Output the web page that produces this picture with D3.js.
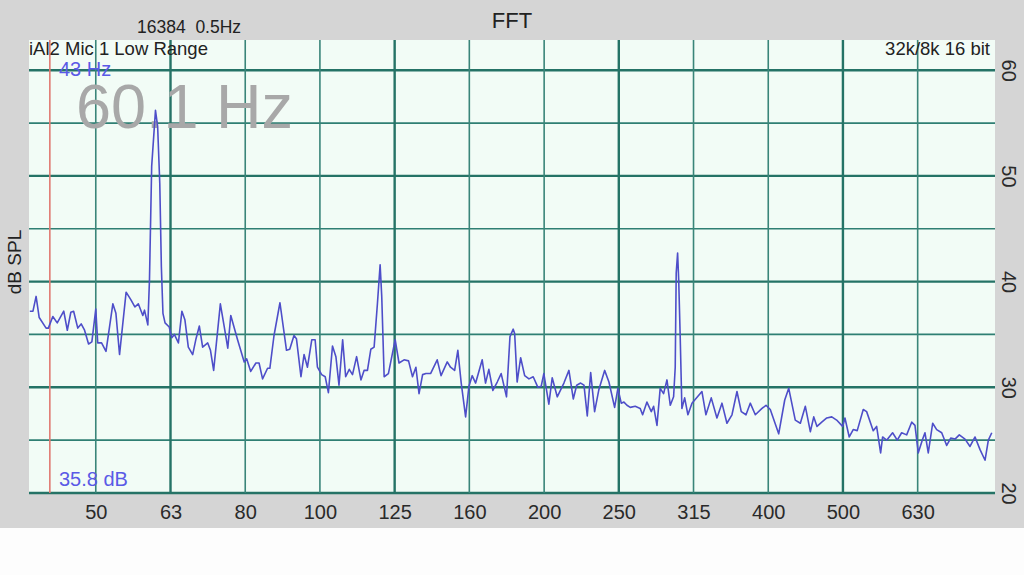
<!DOCTYPE html>
<html>
<head>
<meta charset="utf-8">
<script src="https://cdn.jsdelivr.net/npm/d3@7"></script>
<style>
  html, body { margin: 0; padding: 0; background: #fdfdfd; }
  svg { display: block; font-family: "Liberation Sans", Arial, sans-serif; }
</style>
</head>
<body>
<svg id="chart" width="1024" height="575"></svg>
<script>
// ---- data ----
const freqHz = [40.8,41.2,41.6,42.0,42.9,43.2,43.8,44.4,45.3,45.8,46.3,46.7,47.3,47.8,48.3,48.9,49.4,50.0,50.3,50.9,
  51.6,52.7,53.2,53.8,54.9,55.7,56.4,57.0,57.8,58.1,58.7,59.0,59.4,60.1,60.5,60.9,61.2,61.5,61.9,62.7,
  63.2,63.7,64.5,65.2,65.8,66.5,67.4,68.1,68.8,69.5,70.6,71.2,71.9,73.4,74.3,75.1,75.8,77.4,79.0,79.6,
  80.6,81.9,82.7,83.6,84.9,85.5,86.6,88.2,90.0,90.9,92.1,92.8,94.1,95.0,96.0,97.3,98.3,99.0,100.3,101.4,
  102.4,103.7,104.8,105.8,107.0,108.0,109.2,110.3,111.7,113.2,114.3,115.5,116.7,117.9,119.1,120.1,120.7,121.6,123.2,124.5,
  125.8,127.3,129.3,131.1,132.7,134.1,135.4,136.9,138.3,140.3,143.2,144.9,147.7,149.2,151.1,152.6,154.2,156.3,157.9,159.5,
  161.2,164.5,166.2,167.9,170.0,172.3,174.4,177.3,179.2,181.0,181.8,183.2,185.2,187.5,190.0,192.5,195.3,197.3,198.9,202.0,
  204.1,207.3,211.6,214.9,217.8,220.1,222.8,225.1,227.4,229.8,232.6,235.7,239.9,243.1,247.4,249.9,252.5,254.6,257.0,259.6,
  263.6,267.7,269.7,273.3,277.0,279.0,281.9,284.7,287.7,290.7,293.7,296.7,298.2,299.1,300.4,301.4,302.8,304.4,307.0,310.1,
  314.0,323.8,327.8,333.2,339.1,344.4,349.7,355.2,360.7,365.5,370.9,375.8,381.7,389.6,394.5,399.7,410.2,417.9,423.1,431.7,
  438.5,445.3,452.2,457.0,461.6,468.4,475.7,483.1,490.4,499.5,503.1,509.8,516.1,522.5,532.3,537.9,548.9,554.7,561.6,565.0,
  572.1,582.7,591.1,599.2,608.5,618.0,624.3,630.7,639.3,643.8,650.4,659.3,667.5,677.9,688.4,697.0,706.3,715.7,728.4,739.7,
  751.2,762.9,774.8,782.7,791.0];
const levelDb = [37.2,37.2,38.6,36.6,35.6,35.6,36.7,36.1,37.2,35.4,37.1,37.2,35.6,36.0,35.4,34.1,34.3,37.4,34.2,34.2,
  33.4,37.9,37.0,33.1,39.0,38.3,37.6,37.9,36.8,37.3,35.9,40.2,50.9,56.2,54.7,49.3,41.4,37.0,36.1,35.7,
  34.7,35.0,34.2,37.2,36.4,33.8,33.1,34.6,35.8,33.8,34.2,33.5,31.6,37.9,35.7,33.7,36.8,34.5,32.4,32.7,
  31.5,32.3,32.3,30.8,31.8,31.8,34.9,38.0,33.5,33.6,34.9,34.6,31.0,33.1,31.9,34.5,34.5,31.9,31.2,31.0,
  29.5,33.9,32.9,30.2,34.5,31.0,31.7,31.2,32.9,30.7,31.6,31.6,33.6,33.8,37.9,41.6,38.6,31.0,31.3,32.9,
  34.5,32.3,32.6,32.5,31.0,31.9,29.4,31.2,31.3,31.3,32.6,31.1,32.4,31.9,31.6,33.5,30.4,27.2,30.1,31.1,
  30.4,32.6,30.4,31.7,29.7,30.5,31.3,29.1,34.8,35.5,35.1,30.5,32.8,31.1,30.8,31.0,30.0,30.1,31.3,28.4,
  30.9,29.1,30.4,31.6,28.9,30.2,30.4,30.2,27.3,31.4,27.7,29.8,31.6,30.5,28.1,29.9,28.5,28.6,28.3,28.1,
  28.2,28.0,27.4,28.6,27.7,28.2,26.4,29.9,29.4,30.7,28.3,29.1,31.9,40.8,42.7,40.2,34.8,28.0,29.0,27.4,
  28.5,29.6,27.4,29.0,27.1,28.5,26.6,27.4,29.6,27.7,27.4,28.5,27.4,28.0,28.3,27.9,25.6,28.8,29.9,26.9,
  26.6,28.2,25.8,27.2,26.3,26.7,27.1,27.2,26.9,26.3,27.1,25.3,26.0,25.9,27.9,27.7,25.9,26.3,23.8,25.3,
  25.0,25.7,25.0,25.7,25.5,26.7,26.4,23.8,25.1,25.7,23.8,26.6,26.0,25.7,24.5,25.2,25.1,25.5,25.1,24.4,
  25.3,24.1,23.1,25.0,25.7];

const freqTicks = [50, 62.95, 79.25, 99.76, 125.6, 158.1, 199.1, 250.6, 315.5, 397.2, 500, 629.5];
const freqTickLabels = ["50","63","80","100","125","160","200","250","315","400","500","630"];
const octaveTicks = [62.95, 125.6, 250.6, 500];
const dbTicks = [20, 30, 40, 50, 60];
const dbMinorTicks = [25, 35, 45, 55];
const freqDomain = [40.7, 794];
const dbDomain = [20, 62.86];
const cursorHz = 43.4;
const cursorLabel = "43 Hz";
const cursorDbLabel = "35.8 dB";
const peakLabel = "60.1 Hz";
const titleText = "FFT";
const fftInfo = "16384  0.5Hz";
const sourceInfo = "iAl2 Mic 1 Low Range";
const formatInfo = "32k/8k 16 bit";
const yLabel = "dB SPL";

// ---- layout ----
const W = 1024, H = 575;
const P = { left: 29, right: 993, top: 40, bottom: 493 };
const svg = d3.select("#chart");

svg.append("rect").attr("x", 0).attr("y", 0).attr("width", W).attr("height", H).attr("fill", "#fdfdfd");
svg.append("rect").attr("x", 0).attr("y", 0).attr("width", W).attr("height", 528).attr("fill", "#d5d5d5");
svg.append("rect").attr("x", P.left).attr("y", P.top).attr("width", P.right - P.left + 2)
  .attr("height", P.bottom - P.top).attr("fill", "#f2fcf6");

const x = d3.scaleLog().domain(freqDomain).range([P.left, P.right]);
const y = d3.scaleLinear().domain(dbDomain).range([P.bottom, P.top]);

const grid = svg.append("g");
grid.selectAll("line.hmin").data(dbMinorTicks).join("line")
  .attr("x1", P.left).attr("x2", P.right + 2)
  .attr("y1", d => y(d)).attr("y2", d => y(d))
  .attr("stroke", "#2f7f73").attr("stroke-width", 1.7);
grid.selectAll("line.hmaj").data(dbTicks).join("line")
  .attr("x1", P.left).attr("x2", P.right + 2)
  .attr("y1", d => y(d)).attr("y2", d => y(d))
  .attr("stroke", "#257366").attr("stroke-width", 2.4);
grid.selectAll("line.v").data(freqTicks).join("line")
  .attr("x1", d => x(d)).attr("x2", d => x(d))
  .attr("y1", P.top).attr("y2", P.bottom)
  .attr("stroke", d => octaveTicks.includes(d) ? "#257366" : "#3a8579")
  .attr("stroke-width", d => octaveTicks.includes(d) ? 2.4 : 1.6);

// cursor line
svg.append("line").attr("x1", x(cursorHz)).attr("x2", x(cursorHz))
  .attr("y1", P.top).attr("y2", P.bottom)
  .attr("stroke", "#e07a72").attr("stroke-width", 1.6);

// big peak readout (behind the trace)
svg.append("text").attr("x", 76).attr("y", 128).attr("font-size", 63)
  .attr("fill", "#a8a8a8").text(peakLabel);

// trace
const pts = freqHz.map((f, i) => [f, levelDb[i]]);
svg.append("clipPath").attr("id", "clip").append("rect")
  .attr("x", P.left).attr("y", P.top).attr("width", P.right - P.left).attr("height", P.bottom - P.top);
svg.append("path").datum(pts)
  .attr("clip-path", "url(#clip)")
  .attr("fill", "none").attr("stroke", "#4e4ec9").attr("stroke-width", 1.6)
  .attr("stroke-linejoin", "round")
  .attr("d", d3.line().x(d => x(d[0])).y(d => y(d[1])));

// bottom axis labels
const xAxis = d3.axisBottom(x).tickValues(freqTicks)
  .tickFormat((d, i) => freqTickLabels[i]).tickSize(0).tickPadding(0);
const gx = svg.append("g").attr("transform", `translate(0,${P.bottom + 12})`).call(xAxis);
gx.select(".domain").remove();
gx.selectAll("text").attr("font-size", 20).attr("fill", "#2a2a2a")
  .attr("font-family", "'Liberation Sans', Arial, sans-serif").attr("dy", "0.71em");

// right axis labels rotated
const yAxis = d3.axisRight(y).tickValues(dbTicks).tickSize(0).tickPadding(0);
const gy = svg.append("g").attr("transform", `translate(${P.right + 9},0)`).call(yAxis);
gy.select(".domain").remove();
gy.selectAll("text").attr("font-size", 20).attr("fill", "#2a2a2a")
  .attr("font-family", "'Liberation Sans', Arial, sans-serif")
  .attr("x", 0).attr("dy", 0)
  .attr("text-anchor", "middle")
  .attr("transform", "rotate(90)");

// texts
svg.append("text").attr("x", 512).attr("y", 28).attr("text-anchor", "middle")
  .attr("font-size", 22).attr("fill", "#222").text(titleText);
svg.append("text").attr("x", 137).attr("y", 33).attr("font-size", 17.5)
  .attr("fill", "#222").style("white-space", "pre").text(fftInfo);
svg.append("text").attr("x", 29).attr("y", 55).attr("font-size", 18.5)
  .attr("fill", "#222").text(sourceInfo);
svg.append("text").attr("x", 990).attr("y", 55).attr("font-size", 18.5).attr("text-anchor", "end")
  .attr("fill", "#222").text(formatInfo);
svg.append("text").attr("x", 59).attr("y", 76).attr("font-size", 20)
  .attr("fill", "#5a5ae6").text(cursorLabel);
svg.append("text").attr("x", 59).attr("y", 486).attr("font-size", 20)
  .attr("fill", "#5a5ae6").text(cursorDbLabel);
svg.append("text").attr("transform", "translate(21,262) rotate(-90)").attr("text-anchor", "middle")
  .attr("font-size", 19).attr("fill", "#222").text(yLabel);
</script>
</body>
</html>
